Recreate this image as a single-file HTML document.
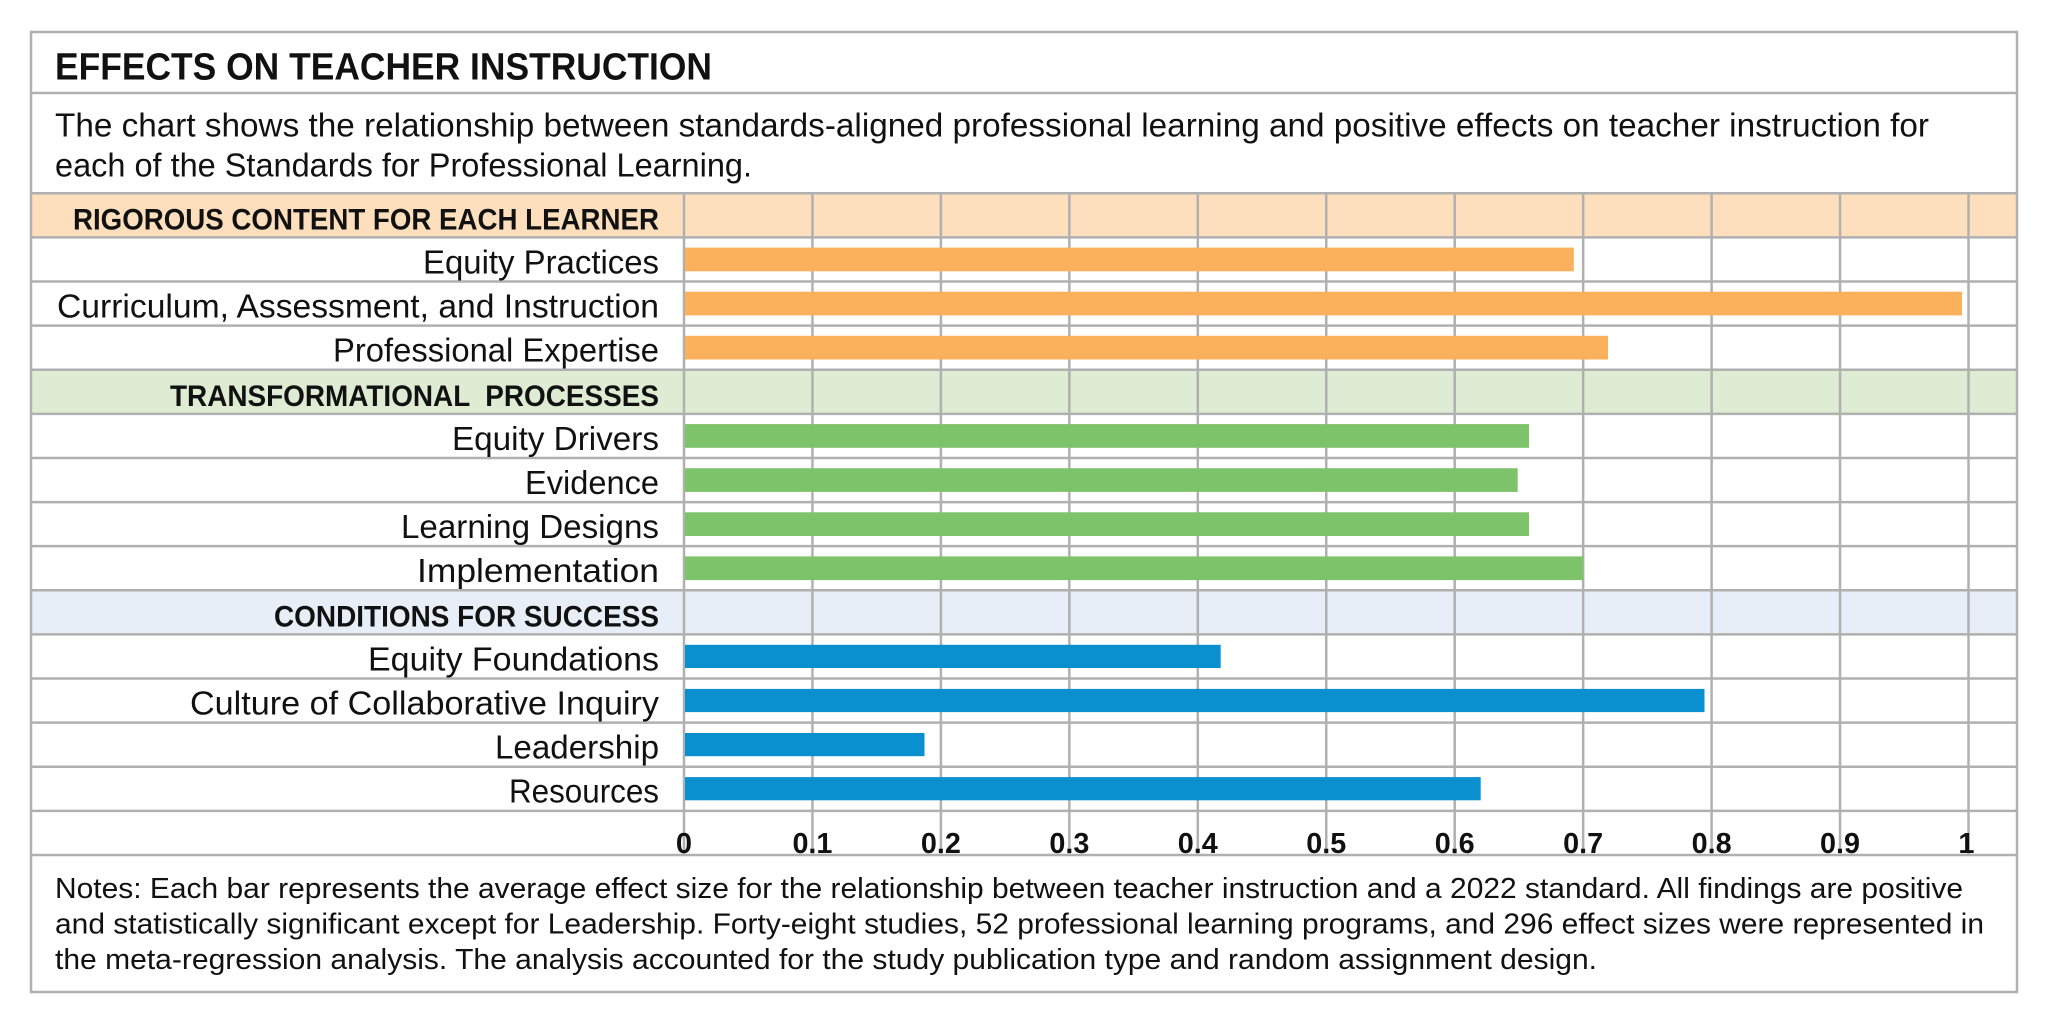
<!DOCTYPE html>
<html>
<head>
<meta charset="utf-8">
<style>
  html, body { margin: 0; padding: 0; background: #ffffff; }
  body { width: 2048px; height: 1026px; overflow: hidden; }
  svg { display: block; }
  .t { font-family: "Liberation Sans", Arial, sans-serif; fill: #111111; }
  .b { font-weight: bold; }
  .pre { white-space: pre; }
</style>
</head>
<body>
<svg width="2048" height="1026" viewBox="0 0 2048 1026" xmlns="http://www.w3.org/2000/svg">
  <rect x="0" y="0" width="2048" height="1026" fill="#ffffff"/>

  <!-- header row fills -->
  <rect x="31" y="193.3" width="1986" height="44.1" fill="#fddfbd"/>
  <rect x="31" y="369.7" width="1986" height="44.1" fill="#ddecd3"/>
  <rect x="31" y="590.3" width="1986" height="44.1" fill="#e7eef8"/>

  <!-- horizontal row lines -->
  <g stroke="#b0b0b0" stroke-width="2.5">
    <line x1="31" y1="93" x2="2017" y2="93"/>
    <line x1="31" y1="193.3" x2="2017" y2="193.3"/>
    <line x1="31" y1="237.41" x2="2017" y2="237.41"/>
    <line x1="31" y1="281.52" x2="2017" y2="281.52"/>
    <line x1="31" y1="325.63" x2="2017" y2="325.63"/>
    <line x1="31" y1="369.74" x2="2017" y2="369.74"/>
    <line x1="31" y1="413.85" x2="2017" y2="413.85"/>
    <line x1="31" y1="457.96" x2="2017" y2="457.96"/>
    <line x1="31" y1="502.07" x2="2017" y2="502.07"/>
    <line x1="31" y1="546.18" x2="2017" y2="546.18"/>
    <line x1="31" y1="590.29" x2="2017" y2="590.29"/>
    <line x1="31" y1="634.4" x2="2017" y2="634.4"/>
    <line x1="31" y1="678.51" x2="2017" y2="678.51"/>
    <line x1="31" y1="722.62" x2="2017" y2="722.62"/>
    <line x1="31" y1="766.73" x2="2017" y2="766.73"/>
    <line x1="31" y1="810.84" x2="2017" y2="810.84"/>
    <line x1="31" y1="854.95" x2="2017" y2="854.95"/>
  </g>

  <!-- vertical gridlines -->
  <g stroke="#b0b0b0" stroke-width="2.5">
    <line x1="684" y1="193.3" x2="684" y2="855"/>
    <line x1="812.45" y1="193.3" x2="812.45" y2="855"/>
    <line x1="940.9" y1="193.3" x2="940.9" y2="855"/>
    <line x1="1069.35" y1="193.3" x2="1069.35" y2="855"/>
    <line x1="1197.8" y1="193.3" x2="1197.8" y2="855"/>
    <line x1="1326.25" y1="193.3" x2="1326.25" y2="855"/>
    <line x1="1454.7" y1="193.3" x2="1454.7" y2="855"/>
    <line x1="1583.15" y1="193.3" x2="1583.15" y2="855"/>
    <line x1="1711.6" y1="193.3" x2="1711.6" y2="855"/>
    <line x1="1840.05" y1="193.3" x2="1840.05" y2="855"/>
    <line x1="1968.5" y1="193.3" x2="1968.5" y2="855"/>
  </g>

  <!-- outer border -->
  <rect x="31" y="32" width="1986" height="960" fill="none" stroke="#b0b0b0" stroke-width="2.5"/>

  <!-- bars -->
  <g fill="#fbb05b">
    <rect x="685" y="247.6" width="888.8" height="23.7"/>
    <rect x="685" y="291.7" width="1277" height="23.7"/>
    <rect x="685" y="335.8" width="923" height="23.7"/>
  </g>
  <g fill="#7dc36a">
    <rect x="685" y="424.1" width="844" height="23.7"/>
    <rect x="685" y="468.2" width="832.7" height="23.7"/>
    <rect x="685" y="512.3" width="844" height="23.7"/>
    <rect x="685" y="556.4" width="898.3" height="23.7"/>
  </g>
  <g fill="#0a90cf">
    <rect x="685" y="644.8" width="535.7" height="23.2"/>
    <rect x="685" y="688.9" width="1019.5" height="23.2"/>
    <rect x="685" y="733.0" width="239.5" height="23.2"/>
    <rect x="685" y="777.1" width="795.7" height="23.2"/>
  </g>

  <!-- title -->
  <text class="t b" x="55" y="79.3" font-size="38" textLength="657" lengthAdjust="spacingAndGlyphs">EFFECTS ON TEACHER INSTRUCTION</text>

  <!-- description -->
  <text class="t" x="55" y="136.7" font-size="33" textLength="1874" lengthAdjust="spacingAndGlyphs">The chart shows the relationship between standards-aligned professional learning and positive effects on teacher instruction for</text>
  <text class="t" x="55" y="176.7" font-size="33" textLength="697" lengthAdjust="spacingAndGlyphs">each of the Standards for Professional Learning.</text>

  <!-- row labels -->
  <g text-anchor="end">
    <text class="t b" x="659" y="229.4" font-size="30" textLength="586" lengthAdjust="spacingAndGlyphs">RIGOROUS CONTENT FOR EACH LEARNER</text>
    <text class="t" x="659" y="273.5" font-size="33" textLength="236" lengthAdjust="spacingAndGlyphs">Equity Practices</text>
    <text class="t" x="659" y="317.6" font-size="33" textLength="602" lengthAdjust="spacingAndGlyphs">Curriculum, Assessment, and Instruction</text>
    <text class="t" x="659" y="361.7" font-size="33" textLength="326" lengthAdjust="spacingAndGlyphs">Professional Expertise</text>
    <text class="t b pre" x="659" y="405.8" font-size="30" textLength="489" lengthAdjust="spacingAndGlyphs">TRANSFORMATIONAL  PROCESSES</text>
    <text class="t" x="659" y="449.9" font-size="33" textLength="207" lengthAdjust="spacingAndGlyphs">Equity Drivers</text>
    <text class="t" x="659" y="494.0" font-size="33" textLength="134" lengthAdjust="spacingAndGlyphs">Evidence</text>
    <text class="t" x="659" y="538.1" font-size="33" textLength="258" lengthAdjust="spacingAndGlyphs">Learning Designs</text>
    <text class="t" x="659" y="582.2" font-size="33" textLength="242" lengthAdjust="spacingAndGlyphs">Implementation</text>
    <text class="t b" x="659" y="626.3" font-size="30" textLength="385" lengthAdjust="spacingAndGlyphs">CONDITIONS FOR SUCCESS</text>
    <text class="t" x="659" y="670.4" font-size="33" textLength="291" lengthAdjust="spacingAndGlyphs">Equity Foundations</text>
    <text class="t" x="659" y="714.5" font-size="33" textLength="469" lengthAdjust="spacingAndGlyphs">Culture of Collaborative Inquiry</text>
    <text class="t" x="659" y="758.6" font-size="33" textLength="164" lengthAdjust="spacingAndGlyphs">Leadership</text>
    <text class="t" x="659" y="802.7" font-size="33" textLength="150" lengthAdjust="spacingAndGlyphs">Resources</text>
  </g>

  <!-- tick labels -->
  <g text-anchor="middle">
    <text class="t b" x="684" y="853" font-size="29">0</text>
    <text class="t b" x="812.45" y="853" font-size="29" textLength="40" lengthAdjust="spacingAndGlyphs">0.1</text>
    <text class="t b" x="940.9" y="853" font-size="29" textLength="40" lengthAdjust="spacingAndGlyphs">0.2</text>
    <text class="t b" x="1069.35" y="853" font-size="29" textLength="40" lengthAdjust="spacingAndGlyphs">0.3</text>
    <text class="t b" x="1197.8" y="853" font-size="29" textLength="40" lengthAdjust="spacingAndGlyphs">0.4</text>
    <text class="t b" x="1326.25" y="853" font-size="29" textLength="40" lengthAdjust="spacingAndGlyphs">0.5</text>
    <text class="t b" x="1454.7" y="853" font-size="29" textLength="40" lengthAdjust="spacingAndGlyphs">0.6</text>
    <text class="t b" x="1583.15" y="853" font-size="29" textLength="40" lengthAdjust="spacingAndGlyphs">0.7</text>
    <text class="t b" x="1711.6" y="853" font-size="29" textLength="40" lengthAdjust="spacingAndGlyphs">0.8</text>
    <text class="t b" x="1840.05" y="853" font-size="29" textLength="40" lengthAdjust="spacingAndGlyphs">0.9</text>
    <text class="t b" x="1966.5" y="853" font-size="29">1</text>
  </g>

  <!-- notes -->
  <text class="t" x="55" y="898" font-size="29" textLength="1908" lengthAdjust="spacingAndGlyphs">Notes: Each bar represents the average effect size for the relationship between teacher instruction and a 2022 standard. All findings are positive</text>
  <text class="t" x="55" y="933.5" font-size="29" textLength="1929" lengthAdjust="spacingAndGlyphs">and statistically significant except for Leadership. Forty-eight studies, 52 professional learning programs, and 296 effect sizes were represented in</text>
  <text class="t" x="55" y="969" font-size="29" textLength="1542" lengthAdjust="spacingAndGlyphs">the meta-regression analysis. The analysis accounted for the study publication type and random assignment design.</text>
</svg>
</body>
</html>
